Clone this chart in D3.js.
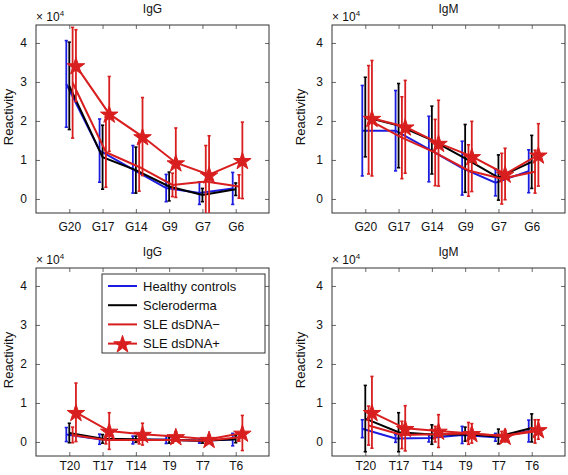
<!DOCTYPE html>
<html><head><meta charset="utf-8">
<script src="https://cdn.jsdelivr.net/npm/d3@7"></script>
<style>
body{margin:0;background:#fff;}
text{font-family:"Liberation Sans",Arial,Helvetica,sans-serif;fill:#111;}
</style></head>
<body><svg id="c" width="568" height="475"></svg>
<script>
// ---- data (values in units of 10^4) ----
const catsG = ["G20","G17","G14","G9","G7","G6"];
const catsT = ["T20","T17","T14","T9","T7","T6"];
const seriesNames = ["Healthy controls","Scleroderma","SLE dsDNA\u2212","SLE dsDNA+"];
const yTicks = [0,1,2,3,4];
const panelTitles = ["IgG","IgM","IgG","IgM"];

const igG_G_mean = [[2.95,1.24,0.76,0.28,0.15,0.27],[2.90,1.07,0.74,0.32,0.10,0.25],[2.98,1.20,0.82,0.36,0.45,0.32],[3.42,2.18,1.60,0.93,0.62,0.99]];
const igG_G_err  = [[1.11,0.81,0.61,0.35,0.29,0.41],[1.12,0.82,0.59,0.37,0.17,0.16],[1.42,0.90,0.62,0.30,0.92,0.30],[0.92,0.96,1.00,0.89,1.00,0.98]];
const igM_G_mean = [[1.75,1.75,1.28,0.79,0.42,0.71],[2.10,1.88,1.51,1.04,0.55,0.95],[2.03,1.57,1.19,0.73,0.52,0.70],[2.07,1.85,1.43,1.09,0.64,1.13]];
const igM_G_err  = [[1.16,1.03,0.84,0.69,0.34,0.55],[1.02,1.08,0.87,0.87,0.58,0.68],[1.39,1.05,0.85,0.66,0.65,0.55],[1.48,1.19,1.10,0.90,0.66,0.80]];
const igG_T_mean = [[0.19,0.07,0.05,0.06,0.03,0.06],[0.23,0.08,0.07,0.05,0.03,0.07],[0.18,0.05,0.05,0.05,0.03,0.12],[0.76,0.28,0.20,0.14,0.07,0.23]];
const igG_T_err  = [[0.18,0.13,0.10,0.10,0.06,0.16],[0.25,0.11,0.08,0.08,0.06,0.09],[0.20,0.10,0.10,0.08,0.07,0.10],[0.75,0.47,0.28,0.12,0.10,0.45]];
const igM_T_mean = [[0.34,0.09,0.10,0.18,0.12,0.28],[0.60,0.25,0.19,0.20,0.14,0.36],[0.42,0.18,0.20,0.22,0.15,0.27],[0.76,0.35,0.28,0.22,0.15,0.32]];
const igM_T_err  = [[0.23,0.10,0.10,0.22,0.10,0.28],[0.85,0.50,0.25,0.18,0.19,0.36],[0.50,0.35,0.20,0.28,0.12,0.30],[0.92,0.58,0.42,0.25,0.15,0.25]];

// ---- styles ----
const colors = ["#1c1ce0","#000000","#d81e1e","#d81e1e"];
const offsets = [-0.09,0,0.1,0.2];

const panels = [
  {x0:36,x1:269,y0:25,y1:213,cats:catsG,mean:igG_G_mean,err:igG_G_err,title:panelTitles[0],labX:9,pad:9},
  {x0:332,x1:565,y0:25,y1:213,cats:catsG,mean:igM_G_mean,err:igM_G_err,title:panelTitles[1],labX:301,pad:9},
  {x0:36,x1:269,y0:268,y1:456,cats:catsT,mean:igG_T_mean,err:igG_T_err,title:panelTitles[2],labX:9,pad:5,legend:true},
  {x0:332,x1:565,y0:268,y1:456,cats:catsT,mean:igM_T_mean,err:igM_T_err,title:panelTitles[3],labX:301,pad:5}
];

const svg = d3.select("#c");
const starSym = d3.symbol().type(d3.symbolStar).size(95);

panels.forEach((p,pi)=>{
  const x = d3.scaleLinear().domain([0,7]).range([p.x0,p.x1]);
  const y = d3.scaleLinear().domain([-0.36,4.46]).range([p.y1,p.y0]);
  const g = svg.append("g");
  const cid = "clip"+pi;
  svg.append("clipPath").attr("id",cid).append("rect")
    .attr("x",p.x0).attr("y",p.y0).attr("width",p.x1-p.x0).attr("height",p.y1-p.y0);

  // axes
  const catIdx = p.cats.map((c,i)=>i+1);
  const ax = g.append("g").attr("transform",`translate(0,${p.y1})`)
    .call(d3.axisBottom(x).tickValues(catIdx).tickFormat((d)=>p.cats[d-1]).tickSizeInner(-4).tickSizeOuter(0).tickPadding(p.pad));
  const axT = g.append("g").attr("transform",`translate(0,${p.y0})`)
    .call(d3.axisTop(x).tickValues(catIdx).tickFormat("").tickSizeInner(-4).tickSizeOuter(0));
  const ay = g.append("g").attr("transform",`translate(${p.x0},0)`)
    .call(d3.axisLeft(y).tickValues(yTicks).tickFormat(d3.format("d")).tickSizeInner(-4).tickSizeOuter(0).tickPadding(9));
  const ayR = g.append("g").attr("transform",`translate(${p.x1},0)`)
    .call(d3.axisRight(y).tickValues(yTicks).tickFormat("").tickSizeInner(-4).tickSizeOuter(0));
  [ax,axT,ay,ayR].forEach(a=>{
    a.select(".domain").remove();
    a.selectAll("line").attr("stroke","#444").attr("stroke-width",0.8);
    a.selectAll("text").attr("font-size",12).attr("fill","#111")
     .style("font-family","'Liberation Sans',Arial,sans-serif");
  });
  ax.selectAll("text").attr("dy","0.71em");
  g.append("rect").attr("x",p.x0).attr("y",p.y0).attr("width",p.x1-p.x0).attr("height",p.y1-p.y0)
    .attr("fill","none").attr("stroke","#333").attr("stroke-width",1);

  // title and multiplier
  g.append("text").attr("x",(p.x0+p.x1)/2).attr("y",p.y0-12).attr("text-anchor","middle")
    .attr("font-size",12).text(p.title);
  const mt = g.append("text").attr("x",p.x0).attr("y",p.y0-4).attr("font-size",12);
  mt.append("tspan").text("\u00d7 10");
  mt.append("tspan").attr("font-size",8).attr("dy",-5).text("4");
  g.append("text").attr("transform",`translate(${p.labX+4},${(p.y0+p.y1)/2-2}) rotate(-90)`)
    .attr("text-anchor","middle").attr("font-size",13).text("Reactivity");

  // series
  const data = g.append("g").attr("clip-path",`url(#${cid})`);
  p.mean.forEach((m,si)=>{
    const pts = m.map((v,i)=>({xi:i+1+offsets[si],v:v,e:p.err[si][i]}));
    const sg = data.append("g");
    sg.append("path").datum(pts)
      .attr("d",d3.line().x(d=>x(d.xi)).y(d=>y(d.v)))
      .attr("fill","none").attr("stroke",colors[si]).attr("stroke-width",2);
    const eb = sg.selectAll("g.eb").data(pts).join("g");
    eb.append("line").attr("x1",d=>x(d.xi)).attr("x2",d=>x(d.xi))
      .attr("y1",d=>y(d.v-d.e)).attr("y2",d=>y(d.v+d.e))
      .attr("stroke",colors[si]).attr("stroke-width",1.8);
    [-1,1].forEach(sgn=>{
      eb.append("line").attr("x1",d=>x(d.xi)-1.6).attr("x2",d=>x(d.xi)+1.6)
        .attr("y1",d=>y(d.v+sgn*d.e)).attr("y2",d=>y(d.v+sgn*d.e))
        .attr("stroke",colors[si]).attr("stroke-width",1.6);
    });
    if(si===3){
      sg.selectAll("path.star").data(pts).join("path").attr("class","star")
        .attr("d",starSym).attr("transform",d=>`translate(${x(d.xi)},${y(d.v)+1})`)
        .attr("fill",colors[si]).attr("stroke",colors[si]).attr("stroke-width",1);
    }
  });

  if(p.legend){
    const lx=102, ly=274, lw=163, lh=79;
    const lg = g.append("g");
    lg.append("rect").attr("x",lx).attr("y",ly).attr("width",lw).attr("height",lh)
      .attr("fill","#fff").attr("stroke","#333").attr("stroke-width",1);
    seriesNames.forEach((n,i)=>{
      const yy = ly+12+i*19.2;
      lg.append("line").attr("x1",lx+6).attr("x2",lx+35).attr("y1",yy).attr("y2",yy)
        .attr("stroke",colors[i]).attr("stroke-width",2);
      if(i===3){
        lg.append("path").attr("d",starSym).attr("transform",`translate(${lx+20.5},${yy+1})`)
          .attr("fill",colors[i]).attr("stroke",colors[i]);
      }
      lg.append("text").attr("x",lx+41).attr("y",yy).attr("dy","0.36em")
        .attr("font-size",13).text(n);
    });
  }
});
</script></body></html>
